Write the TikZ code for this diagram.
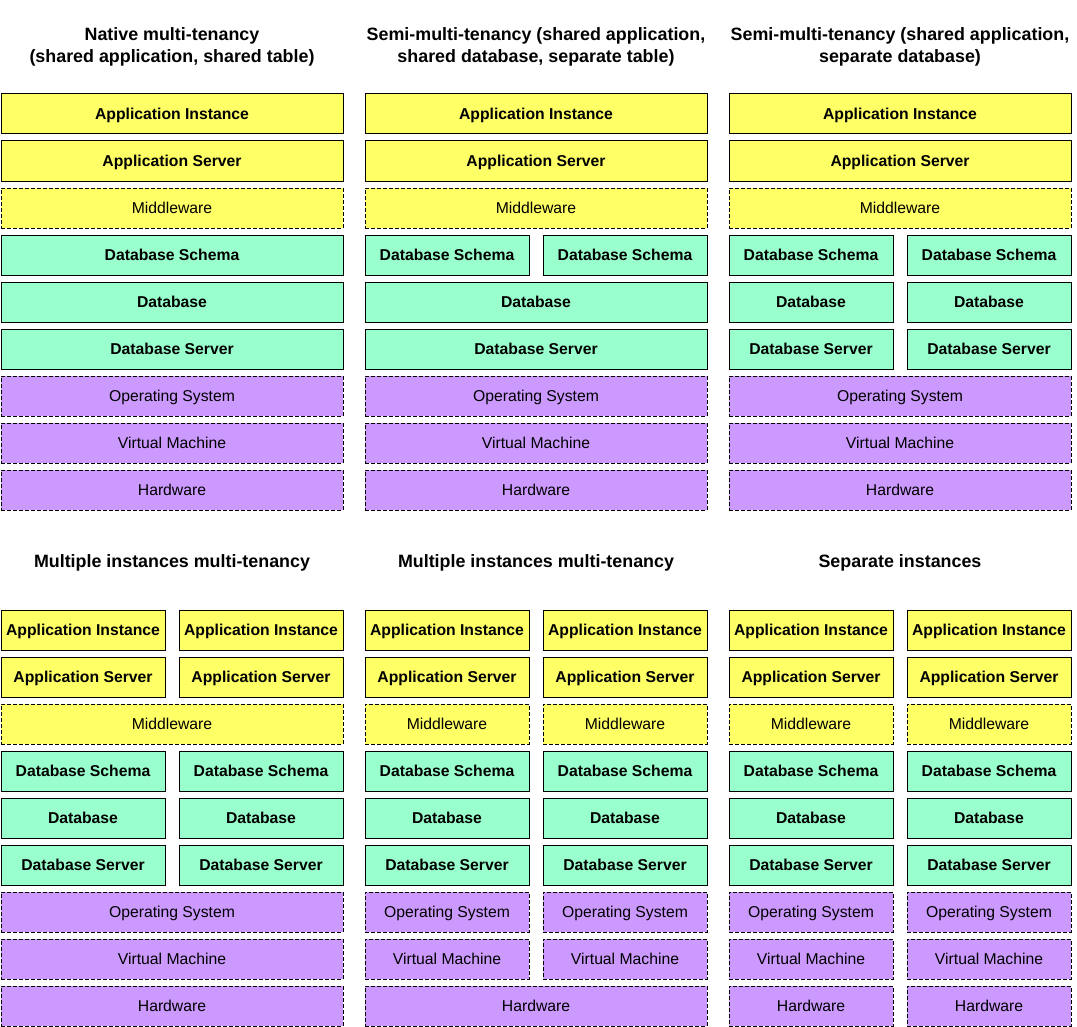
\documentclass[tikz,border=0pt]{standalone}
\usepackage{fontspec}
\setmainfont{Liberation Sans}
\usetikzlibrary{positioning}
\definecolor{appyellow}{HTML}{FFFF66}
\definecolor{dbgreen}{HTML}{99FFCC}
\definecolor{ospurple}{HTML}{CC99FF}
\tikzset{
	layer/.style={draw=black, line width=0.75pt, inner sep=0pt, outer sep=0pt, minimum height=30pt, text height=8.45pt, text depth=0pt, font=\fontsize{11.8pt}{14pt}\selectfont},
	full/.style={minimum width=256.5pt},
	half/.style={minimum width=123pt},
	app/.style={layer, fill=appyellow, font=\fontsize{11.8pt}{14pt}\selectfont\bfseries},
	mid/.style={layer, fill=appyellow, dash pattern=on 3pt off 1.5pt},
	db/.style={layer, fill=dbgreen, font=\fontsize{11.8pt}{14pt}\selectfont\bfseries},
	os/.style={layer, fill=ospurple, dash pattern=on 3pt off 1.5pt},
	title/.style={align=center, font=\fontsize{13.4pt}{16.5pt}\selectfont\bfseries}
}
\begin{document}
\begin{tikzpicture}[x=0.75pt, y=-0.75pt]
			%%%%% START %%%%%
			\useasboundingbox (0, 0) rectangle (1077, 1027);
			
			% titles
			\node[title] (ta) at (172, 47) {Native multi-tenancy\\(shared application, shared table)};
			\node[title] (tb) at (536, 47) {Semi-multi-tenancy (shared application,\\shared database, separate table)};
			\node[title] (tc) at (900, 47) {Semi-multi-tenancy (shared application,\\separate database)};
			\node[title] (td) at (172, 563) {Multiple instances multi-tenancy};
			\node[title] (te) at (536, 563) {Multiple instances multi-tenancy};
			\node[title] (tf) at (900, 563) {Separate instances};
			
			% native multi-tenancy
			\node[app, full] (a1) at (172, 114) {Application Instance};
			\node[app, full] (a2) at (172, 161) {Application Server};
			\node[mid, full] (a3) at (172, 208) {Middleware};
			\node[db, full] (a4) at (172, 255) {Database Schema};
			\node[db, full] (a5) at (172, 302) {Database};
			\node[db, full] (a6) at (172, 349) {Database Server};
			\node[os, full] (a7) at (172, 396) {Operating System};
			\node[os, full] (a8) at (172, 443) {Virtual Machine};
			\node[os, full] (a9) at (172, 490) {Hardware};
			
			% semi-multi-tenancy, separate table
			\node[app, full] (b1) at (536, 114) {Application Instance};
			\node[app, full] (b2) at (536, 161) {Application Server};
			\node[mid, full] (b3) at (536, 208) {Middleware};
			\node[db, half] (b4l) at (447, 255) {Database Schema};
			\node[db, half] (b4r) at (625, 255) {Database Schema};
			\node[db, full] (b5) at (536, 302) {Database};
			\node[db, full] (b6) at (536, 349) {Database Server};
			\node[os, full] (b7) at (536, 396) {Operating System};
			\node[os, full] (b8) at (536, 443) {Virtual Machine};
			\node[os, full] (b9) at (536, 490) {Hardware};
			
			% semi-multi-tenancy, separate database
			\node[app, full] (c1) at (900, 114) {Application Instance};
			\node[app, full] (c2) at (900, 161) {Application Server};
			\node[mid, full] (c3) at (900, 208) {Middleware};
			\node[db, half] (c4l) at (811, 255) {Database Schema};
			\node[db, half] (c4r) at (989, 255) {Database Schema};
			\node[db, half] (c5l) at (811, 302) {Database};
			\node[db, half] (c5r) at (989, 302) {Database};
			\node[db, half] (c6l) at (811, 349) {Database Server};
			\node[db, half] (c6r) at (989, 349) {Database Server};
			\node[os, full] (c7) at (900, 396) {Operating System};
			\node[os, full] (c8) at (900, 443) {Virtual Machine};
			\node[os, full] (c9) at (900, 490) {Hardware};
			
			% multiple instances, shared middleware
			\node[app, half] (d1l) at (83, 630) {Application Instance};
			\node[app, half] (d1r) at (261, 630) {Application Instance};
			\node[app, half] (d2l) at (83, 677) {Application Server};
			\node[app, half] (d2r) at (261, 677) {Application Server};
			\node[mid, full] (d3) at (172, 724) {Middleware};
			\node[db, half] (d4l) at (83, 771) {Database Schema};
			\node[db, half] (d4r) at (261, 771) {Database Schema};
			\node[db, half] (d5l) at (83, 818) {Database};
			\node[db, half] (d5r) at (261, 818) {Database};
			\node[db, half] (d6l) at (83, 865) {Database Server};
			\node[db, half] (d6r) at (261, 865) {Database Server};
			\node[os, full] (d7) at (172, 912) {Operating System};
			\node[os, full] (d8) at (172, 959) {Virtual Machine};
			\node[os, full] (d9) at (172, 1006) {Hardware};
			
			% multiple instances, shared hardware
			\node[app, half] (e1l) at (447, 630) {Application Instance};
			\node[app, half] (e1r) at (625, 630) {Application Instance};
			\node[app, half] (e2l) at (447, 677) {Application Server};
			\node[app, half] (e2r) at (625, 677) {Application Server};
			\node[mid, half] (e3l) at (447, 724) {Middleware};
			\node[mid, half] (e3r) at (625, 724) {Middleware};
			\node[db, half] (e4l) at (447, 771) {Database Schema};
			\node[db, half] (e4r) at (625, 771) {Database Schema};
			\node[db, half] (e5l) at (447, 818) {Database};
			\node[db, half] (e5r) at (625, 818) {Database};
			\node[db, half] (e6l) at (447, 865) {Database Server};
			\node[db, half] (e6r) at (625, 865) {Database Server};
			\node[os, half] (e7l) at (447, 912) {Operating System};
			\node[os, half] (e7r) at (625, 912) {Operating System};
			\node[os, half] (e8l) at (447, 959) {Virtual Machine};
			\node[os, half] (e8r) at (625, 959) {Virtual Machine};
			\node[os, full] (e9) at (536, 1006) {Hardware};
			
			% separate instances
			\node[app, half] (f1l) at (811, 630) {Application Instance};
			\node[app, half] (f1r) at (989, 630) {Application Instance};
			\node[app, half] (f2l) at (811, 677) {Application Server};
			\node[app, half] (f2r) at (989, 677) {Application Server};
			\node[mid, half] (f3l) at (811, 724) {Middleware};
			\node[mid, half] (f3r) at (989, 724) {Middleware};
			\node[db, half] (f4l) at (811, 771) {Database Schema};
			\node[db, half] (f4r) at (989, 771) {Database Schema};
			\node[db, half] (f5l) at (811, 818) {Database};
			\node[db, half] (f5r) at (989, 818) {Database};
			\node[db, half] (f6l) at (811, 865) {Database Server};
			\node[db, half] (f6r) at (989, 865) {Database Server};
			\node[os, half] (f7l) at (811, 912) {Operating System};
			\node[os, half] (f7r) at (989, 912) {Operating System};
			\node[os, half] (f8l) at (811, 959) {Virtual Machine};
			\node[os, half] (f8r) at (989, 959) {Virtual Machine};
			\node[os, half] (f9l) at (811, 1006) {Hardware};
			\node[os, half] (f9r) at (989, 1006) {Hardware};
			
			%%%%% END %%%%%
\end{tikzpicture}
\end{document}
